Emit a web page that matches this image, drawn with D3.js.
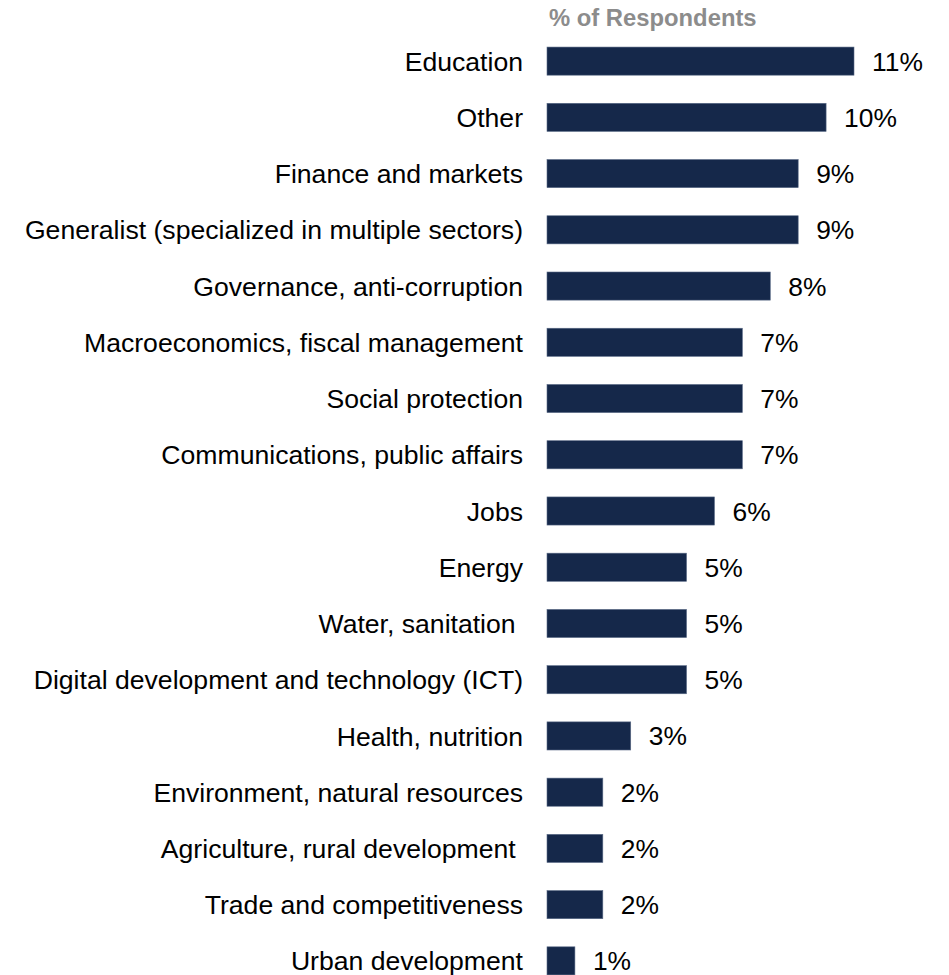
<!DOCTYPE html>
<html>
<head>
<meta charset="utf-8">
<script src="https://cdn.jsdelivr.net/npm/d3@7"></script>
<style>
  html, body { margin: 0; padding: 0; background: #fff; }
  svg { display: block; }
  text { font-family: "Liberation Sans", Arial, sans-serif; }
</style>
</head>
<body>
<div id="chart"></div>
<script>
// Sectors of specialization, in display order
const categories = [
  "Education",
  "Other",
  "Finance and markets",
  "Generalist (specialized in multiple sectors)",
  "Governance, anti-corruption",
  "Macroeconomics, fiscal management",
  "Social protection",
  "Communications, public affairs",
  "Jobs",
  "Energy",
  "Water, sanitation ",
  "Digital development and technology (ICT)",
  "Health, nutrition",
  "Environment, natural resources",
  "Agriculture, rural development ",
  "Trade and competitiveness",
  "Urban development"
];
// Share of respondents, percent
const values = [11, 10, 9, 9, 8, 7, 7, 7, 6, 5, 5, 5, 3, 2, 2, 2, 1];
const axisTitle = "% of Respondents";

const W = 949, H = 975;
const barLeft = 547;

const svg = d3.select("#chart").append("svg")
  .attr("width", W).attr("height", H);

const y = d3.scaleBand()
  .domain(categories)
  .range([33, 989])
  .paddingInner(0.5)
  .paddingOuter(0.25);

const x = d3.scaleLinear()
  .domain([0, 11])
  .range([barLeft, barLeft + 307]);

svg.append("text")
  .attr("x", 549).attr("y", 26)
  .attr("fill", "#8c8c8c")
  .attr("font-weight", "bold")
  .attr("font-size", 23.8)
  .text(axisTitle);

const rows = svg.selectAll("g.row")
  .data(categories.map((c, i) => ({ c, v: values[i] })))
  .join("g").attr("class", "row");

rows.append("rect")
  .attr("x", x(0))
  .attr("y", d => y(d.c))
  .attr("width", d => x(d.v) - x(0))
  .attr("height", y.bandwidth())
  .attr("fill", "#15284a")
  .attr("stroke", "#5a6a86")
  .attr("stroke-width", 0.6);

rows.append("text")
  .attr("x", 523)
  .attr("y", d => y(d.c) + y.bandwidth() / 2)
  .attr("dy", "0.36em")
  .attr("text-anchor", "end")
  .attr("font-size", 26.6)
  .attr("fill", "#000")
  .style("white-space", "pre")
  .text(d => d.c);

rows.append("text")
  .attr("x", d => x(d.v) + 18)
  .attr("y", d => y(d.c) + y.bandwidth() / 2)
  .attr("dy", "0.36em")
  .attr("font-size", 26.4)
  .attr("fill", "#000")
  .text(d => d.v + "%");
</script>
</body>
</html>
